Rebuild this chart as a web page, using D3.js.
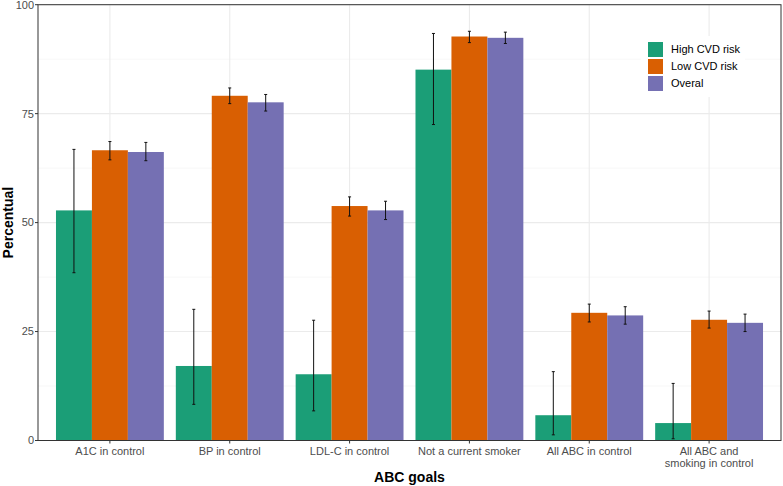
<!DOCTYPE html>
<html><head><meta charset="utf-8">
<script src="https://cdn.jsdelivr.net/npm/d3@7"></script>
<style>body{margin:0;background:#fff}svg{display:block}text{font-family:Arial,"Liberation Sans",sans-serif}</style>
</head><body><svg id="c" width="783" height="486"></svg>
<script>
const categories = ["A1C in control","BP in control","LDL-C in control","Not a current smoker","All ABC in control","All ABC and\nsmoking in control"];
const groups = ["High CVD risk","Low CVD risk","Overal"];
const colors = ["#1b9e77","#d95f02","#7570b3"];
const highVal = [52.8, 17.1, 15.2, 85.1, 5.8, 4.0];
const highLo  = [38.5, 8.3, 6.8, 72.5, 1.3, 0.4];
const highHi  = [66.8, 30.1, 27.6, 93.4, 15.8, 13.1];
const lowVal  = [66.6, 79.1, 53.8, 92.7, 29.3, 27.7];
const lowLo   = [64.4, 77.3, 51.5, 91.3, 27.2, 25.8];
const lowHi   = [68.6, 80.9, 55.9, 93.9, 31.3, 29.7];
const allVal  = [66.2, 77.6, 52.8, 92.4, 28.7, 27.0];
const allLo   = [64.2, 75.6, 50.7, 91.1, 26.7, 25.0];
const allHi   = [68.4, 79.4, 54.9, 93.7, 30.7, 29.0];
const yTicks = [0, 25, 50, 75, 100];

const series = [
  {name: groups[0], vals: highVal, lo: highLo, hi: highHi},
  {name: groups[1], vals: lowVal, lo: lowLo, hi: lowHi},
  {name: groups[2], vals: allVal, lo: allLo, hi: allHi}
];

const svg = d3.select("#c");
const L = 38, R = 781, T = 4.7, B = 440.5;
const x = d3.scaleLinear().domain([0.4, 6.6]).range([L, R]);
const y = d3.scaleLinear().domain([0, 100]).range([B, T]);

const g = svg.append("g");
[12.5, 37.5, 62.5, 87.5].forEach(v => g.append("line").attr("x1", L).attr("x2", R).attr("y1", y(v)).attr("y2", y(v)).attr("stroke", "#f2f2f2").attr("stroke-width", 0.6));
yTicks.forEach(v => g.append("line").attr("x1", L).attr("x2", R).attr("y1", y(v)).attr("y2", y(v)).attr("stroke", "#ebebeb").attr("stroke-width", 1.1));
categories.forEach((c, i) => g.append("line").attr("x1", x(i+1)).attr("x2", x(i+1)).attr("y1", T).attr("y2", B).attr("stroke", "#ebebeb").attr("stroke-width", 1.1));

const bw = x(1.3) - x(1);
series.forEach((s, j) => {
  categories.forEach((c, i) => {
    const cx = x(i+1) + (j-1)*bw;
    g.append("rect").attr("x", cx - bw/2).attr("width", bw).attr("y", y(s.vals[i])).attr("height", y(0)-y(s.vals[i])).attr("fill", colors[j]);
  });
});
series.forEach((s, j) => {
  categories.forEach((c, i) => {
    const cx = x(i+1) + (j-1)*bw;
    const e = g.append("g").attr("stroke", "#111").attr("stroke-width", 1);
    e.append("line").attr("x1", cx).attr("x2", cx).attr("y1", y(s.lo[i])).attr("y2", y(s.hi[i]));
    e.append("line").attr("x1", cx-1.5).attr("x2", cx+1.5).attr("y1", y(s.lo[i])).attr("y2", y(s.lo[i]));
    e.append("line").attr("x1", cx-1.5).attr("x2", cx+1.5).attr("y1", y(s.hi[i])).attr("y2", y(s.hi[i]));
  });
});

g.append("rect").attr("x", L).attr("y", T).attr("width", R-L).attr("height", B-T).attr("fill", "none").attr("stroke", "#333").attr("stroke-width", 1);

const ya = svg.append("g");
yTicks.forEach(v => {
  ya.append("line").attr("x1", L-3).attr("x2", L).attr("y1", y(v)).attr("y2", y(v)).attr("stroke", "#333");
  ya.append("text").attr("x", L-4).attr("y", y(v)).attr("dy", "0.35em").attr("text-anchor", "end").attr("font-size", 11).attr("fill", "#4d4d4d").text(v);
});
categories.forEach((c, i) => {
  svg.append("line").attr("x1", x(i+1)).attr("x2", x(i+1)).attr("y1", B).attr("y2", B+3).attr("stroke", "#333");
  const lines = c.split("\n");
  lines.forEach((t, k) => svg.append("text").attr("x", x(i+1)).attr("y", B + 14 + k*12.5).attr("text-anchor", "middle").attr("font-size", 11).attr("fill", "#4d4d4d").text(t));
});
svg.append("text").attr("x", (L+R)/2).attr("y", 482).attr("text-anchor", "middle").attr("font-size", 14).attr("font-weight", "bold").text("ABC goals");
svg.append("text").attr("transform", `translate(13,${(T+B)/2}) rotate(-90)`).attr("text-anchor", "middle").attr("font-size", 14).attr("font-weight", "bold").text("Percentual");

const lg = svg.append("g").attr("transform", "translate(641,36)");
lg.append("rect").attr("width", 104).attr("height", 61).attr("fill", "#fff");
groups.forEach((n, k) => {
  lg.append("rect").attr("x", 7).attr("y", 6 + k*17).attr("width", 15).attr("height", 15).attr("fill", colors[k]);
  lg.append("text").attr("x", 30).attr("y", 13.5 + k*17).attr("dy", "0.35em").attr("font-size", 11).attr("fill", "#000").text(n);
});
</script></body></html>
